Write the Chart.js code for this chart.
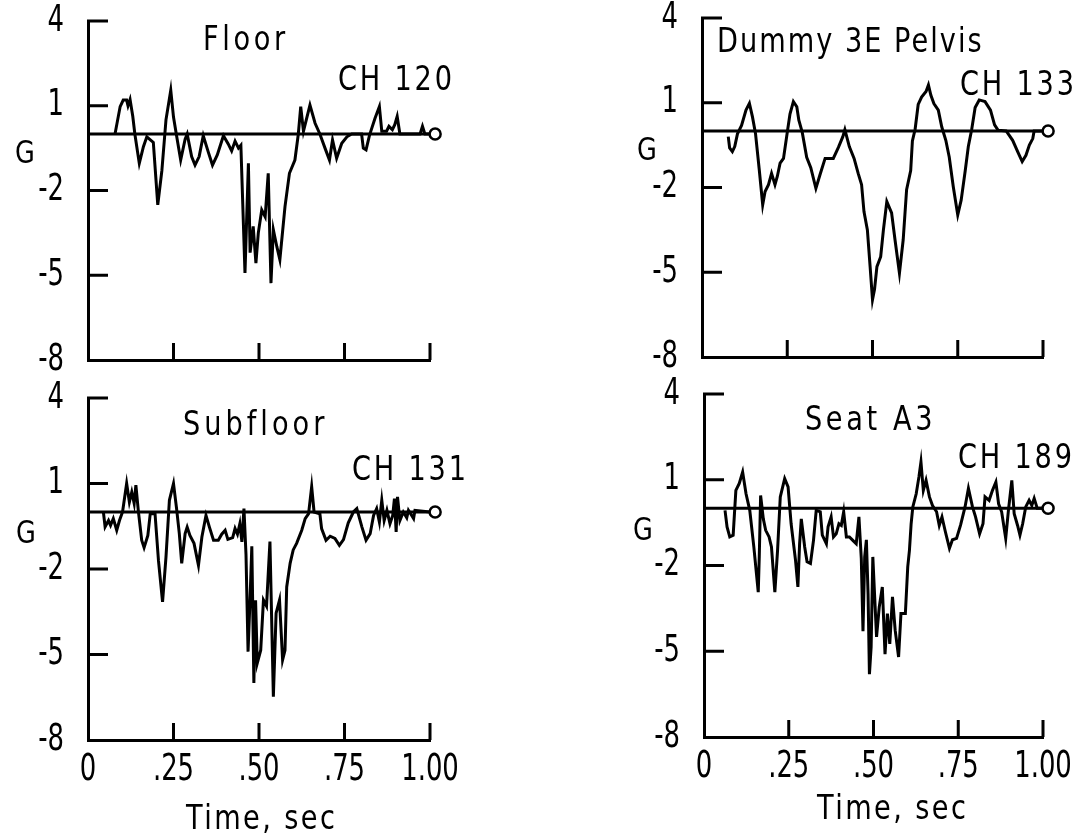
<!DOCTYPE html>
<html>
<head>
<meta charset="utf-8">
<script src="https://cdn.jsdelivr.net/npm/chart.js@4.4.1/dist/chart.umd.min.js"></script>
<style>
  body { margin: 0; background: #fff; }
  #page { position: relative; width: 1083px; height: 838px; overflow: hidden; background: #fff; }
  #page canvas { position: absolute; left: 0; top: 0; }
  .t { position: absolute; font-family: "DejaVu Sans", sans-serif; font-size: 34px; line-height: 1;
       white-space: nowrap; color: #000; transform: scaleX(0.8); transform-origin: 0 0; }
  .g { font-size: 32px; }
</style>
</head>
<body>
<div id="page">
  <canvas id="floor" width="1083" height="838"></canvas>
  <canvas id="pelvis" width="1083" height="838"></canvas>
  <canvas id="subfloor" width="1083" height="838"></canvas>
  <canvas id="seat" width="1083" height="838"></canvas>

  <div class="t" style="left:203px;top:21px;letter-spacing:4.5px">Floor</div>
  <div class="t" style="left:338px;top:61px;letter-spacing:3.5px">CH 120</div>
  <div class="t g" style="left:15px;top:136px">G</div>

  <div class="t" style="left:717px;top:23px;letter-spacing:2.5px">Dummy 3E Pelvis</div>
  <div class="t" style="left:960px;top:66px;letter-spacing:3.5px">CH 133</div>
  <div class="t g" style="left:637px;top:133px">G</div>

  <div class="t" style="left:183px;top:406px;letter-spacing:5px">Subfloor</div>
  <div class="t" style="left:352px;top:451px;letter-spacing:3.5px">CH 131</div>
  <div class="t g" style="left:16px;top:516px">G</div>

  <div class="t" style="left:805px;top:401px;letter-spacing:4.5px">Seat A3</div>
  <div class="t" style="left:958px;top:439px;letter-spacing:3.5px">CH 189</div>
  <div class="t g" style="left:633px;top:513px">G</div>

  <div class="t" style="left:186px;top:800px;letter-spacing:3px">Time, sec</div>
  <div class="t" style="left:817px;top:790px;letter-spacing:3px">Time, sec</div>
</div>
<script>
// axis ticks
const yTicks = [-8, -5, -2, 1, 4];
const xTicks = [0, 0.25, 0.5, 0.75, 1.0];
const xTickLabels = ['0', '.25', '.50', '.75', '1.00'];

// zero reference line with the open circle at its end
const baselineTime = [0, 1.015];
const baselineG = [0, 0];

// CH 120 - Floor
const floorTime = [0.079, 0.094, 0.103, 0.113, 0.117, 0.123, 0.131, 0.137, 0.150, 0.162, 0.172, 0.191, 0.204, 0.216, 0.228, 0.242, 0.250, 0.259, 0.271, 0.284, 0.290, 0.303, 0.313, 0.325, 0.337, 0.352, 0.364, 0.378, 0.396, 0.410, 0.420, 0.430, 0.440, 0.447, 0.459, 0.469, 0.474, 0.483, 0.491, 0.498, 0.508, 0.518, 0.527, 0.535, 0.542, 0.552, 0.561, 0.576, 0.589, 0.605, 0.615, 0.622, 0.630, 0.649, 0.664, 0.678, 0.693, 0.706, 0.715, 0.727, 0.742, 0.757, 0.771, 0.800, 0.805, 0.813, 0.823, 0.839, 0.852, 0.859, 0.873, 0.880, 0.890, 0.897, 0.904, 0.912, 0.971, 0.978, 0.985, 1.000];
const floorG = [0, 0.97, 1.2, 1.2, 1.0, 1.22, 0.62, 0, -1.04, -0.45, -0.1, -0.3, -2.51, -1.3, 0.5, 1.55, 0.6, -0.06, -0.92, -0.18, 0, -0.8, -1.1, -0.8, -0.06, -0.65, -1.1, -0.74, -0.06, -0.35, -0.6, -0.25, -0.5, -0.4, -4.92, -1.04, -4.2, -3.27, -4.57, -3.5, -2.69, -2.93, -1.39, -5.28, -3.39, -3.98, -4.45, -2.57, -1.39, -0.92, 0, 0.97, 0.1, 1.02, 0.38, 0, -0.5, -0.92, -0.21, -0.86, -0.33, -0.1, 0, 0, -0.5, -0.56, -0.05, 0.55, 0.97, 0.1, 0.1, 0.27, 0.15, 0.33, 0.62, 0, 0, 0.27, 0, 0];

// CH 133 - Dummy 3E Pelvis
const pelvisTime = [0.077, 0.081, 0.089, 0.096, 0.104, 0.116, 0.129, 0.139, 0.148, 0.157, 0.168, 0.178, 0.185, 0.195, 0.204, 0.214, 0.221, 0.229, 0.239, 0.250, 0.258, 0.268, 0.278, 0.284, 0.294, 0.307, 0.319, 0.334, 0.346, 0.361, 0.385, 0.400, 0.413, 0.419, 0.432, 0.446, 0.458, 0.468, 0.475, 0.485, 0.493, 0.500, 0.506, 0.513, 0.524, 0.532, 0.542, 0.556, 0.566, 0.579, 0.590, 0.600, 0.612, 0.617, 0.625, 0.634, 0.644, 0.657, 0.664, 0.671, 0.680, 0.693, 0.703, 0.715, 0.725, 0.737, 0.750, 0.760, 0.772, 0.781, 0.791, 0.801, 0.813, 0.830, 0.846, 0.858, 0.868, 0.892, 0.911, 0.926, 0.939, 0.950, 0.960, 0.970, 0.974, 1.000];
const pelvisG = [-0.2, -0.6, -0.73, -0.55, -0.1, 0.2, 0.74, 0.98, 0.5, -0.1, -1.38, -2.61, -2.14, -1.9, -1.5, -1.9, -1.6, -1.14, -0.97, -0.05, 0.6, 1.04, 0.86, 0.38, -0.05, -0.93, -1.3, -2.03, -1.55, -0.97, -0.97, -0.58, -0.2, 0.05, -0.55, -0.97, -1.5, -1.9, -2.85, -3.5, -4.8, -5.97, -5.6, -4.8, -4.45, -3.5, -2.5, -2.9, -3.85, -5.03, -3.85, -2.08, -1.4, -0.35, 0.06, 0.94, 1.2, 1.4, 1.63, 1.27, 0.97, 0.74, 0.15, -0.33, -0.92, -1.98, -2.97, -2.45, -1.4, -0.55, 0.06, 0.83, 1.1, 1.04, 0.74, 0.22, 0.03, 0, -0.33, -0.74, -1.08, -0.86, -0.5, -0.27, 0, 0];

// CH 131 - Subfloor
const subfloorTime = [0.045, 0.050, 0.060, 0.066, 0.074, 0.084, 0.092, 0.101, 0.113, 0.121, 0.128, 0.135, 0.140, 0.147, 0.157, 0.164, 0.175, 0.182, 0.196, 0.206, 0.218, 0.228, 0.238, 0.250, 0.259, 0.267, 0.274, 0.284, 0.290, 0.298, 0.310, 0.323, 0.333, 0.345, 0.355, 0.367, 0.381, 0.391, 0.401, 0.409, 0.423, 0.430, 0.437, 0.444, 0.450, 0.456, 0.462, 0.468, 0.474, 0.479, 0.485, 0.490, 0.495, 0.505, 0.513, 0.522, 0.532, 0.542, 0.550, 0.560, 0.569, 0.576, 0.581, 0.591, 0.600, 0.610, 0.625, 0.635, 0.645, 0.654, 0.661, 0.678, 0.683, 0.696, 0.708, 0.722, 0.735, 0.747, 0.761, 0.776, 0.786, 0.801, 0.813, 0.825, 0.835, 0.844, 0.852, 0.859, 0.866, 0.874, 0.883, 0.891, 0.896, 0.901, 0.905, 0.912, 0.922, 0.932, 0.937, 0.952, 0.956, 1.000];
const subfloorG = [0, -0.52, -0.3, -0.47, -0.23, -0.64, -0.3, 0, 1.0, 0.35, 0.7, 0.3, 0.94, 0.06, -0.99, -1.25, -0.82, -0.06, -0.06, -1.7, -3.15, -1.58, 0.41, 1.0, 0.12, -0.76, -1.8, -0.76, -0.53, -0.82, -1.1, -1.87, -0.88, -0.12, -0.53, -0.99, -0.99, -0.78, -0.64, -0.96, -0.9, -0.58, -0.78, -0.41, -1.05, 0.12, -1.5, -4.9, -3.0, -1.2, -6.0, -3.1, -5.3, -4.85, -3.09, -3.3, -1.04, -6.48, -3.55, -3.09, -5.19, -4.85, -2.63, -1.8, -1.33, -1.1, -0.64, -0.23, -0.06, 0.89, 0, -0.06, -0.58, -0.99, -0.85, -0.93, -1.17, -0.97, -0.38, 0, 0.12, -0.53, -0.99, -0.76, -0.12, 0.12, -0.35, 0.41, -0.3, 0.06, -0.41, -0.12, 0.47, -0.7, 0.53, -0.3, 0, -0.2, 0.06, -0.23, 0.06, 0];

// CH 189 - Seat A3
const seatTime = [0.062, 0.068, 0.076, 0.086, 0.094, 0.104, 0.114, 0.124, 0.135, 0.147, 0.160, 0.163, 0.167, 0.175, 0.182, 0.192, 0.199, 0.209, 0.217, 0.225, 0.238, 0.248, 0.257, 0.270, 0.277, 0.282, 0.287, 0.297, 0.304, 0.314, 0.323, 0.331, 0.343, 0.349, 0.361, 0.366, 0.375, 0.382, 0.390, 0.398, 0.405, 0.412, 0.420, 0.429, 0.439, 0.449, 0.457, 0.464, 0.469, 0.474, 0.479, 0.484, 0.488, 0.493, 0.498, 0.503, 0.509, 0.517, 0.526, 0.534, 0.541, 0.548, 0.556, 0.564, 0.574, 0.581, 0.594, 0.601, 0.606, 0.611, 0.616, 0.626, 0.634, 0.640, 0.647, 0.655, 0.665, 0.674, 0.686, 0.694, 0.702, 0.712, 0.724, 0.733, 0.745, 0.757, 0.770, 0.780, 0.792, 0.801, 0.813, 0.823, 0.829, 0.841, 0.851, 0.861, 0.869, 0.878, 0.890, 0.898, 0.908, 0.915, 0.925, 0.932, 0.940, 0.949, 0.959, 0.967, 0.974, 0.983, 1.000];
const seatG = [-0.07, -0.65, -1.0, -0.94, 0.63, 0.87, 1.27, 0.51, -0.07, -1.35, -2.93, -1.7, 0.45, -0.37, -0.77, -1.0, -1.35, -2.93, -1.47, 0.4, 1.04, 0.75, -0.54, -1.82, -2.75, -1.24, -0.37, -1.35, -1.87, -1.93, -1.12, -0.07, -0.12, -0.94, -1.24, -0.65, -0.3, -1.0, -0.89, -0.54, -0.6, -0.12, -1.0, -1.0, -1.12, -1.24, -0.3, -1.76, -4.3, -1.7, -1.1, -3.0, -5.8, -4.85, -1.7, -2.98, -4.5, -3.45, -2.75, -5.1, -3.68, -4.74, -3.1, -4.27, -5.2, -3.68, -3.68, -2.05, -1.47, -0.54, 0.05, 0.51, 1.1, 1.62, 0.63, 0.98, 0.4, 0.1, -0.12, -0.6, -0.3, -0.82, -1.4, -1.1, -1.05, -0.58, 0.05, 0.7, 0.05, -0.3, -0.89, -0.54, 0.4, 0.28, 0.63, 0.92, 0.16, -0.12, -1.05, -0.07, 0.98, -0.19, -0.6, -0.94, -0.54, 0.05, 0.28, 0.1, 0.35, 0, 0];

const W = 1083, H = 838;
const FONT = '"DejaVu Sans", sans-serif';
const NARROW = 0.7;   // horizontal squeeze for tick labels (no condensed face installed)
const Y_BOX = 80, X_BOX = 60;

// chart areas in page pixels
const panels = [
  { id: 'floor', time: floorTime, g: floorG, area: { left: 88, right: 430, top: 21, bottom: 360 }, xLabels: false },
  { id: 'pelvis', time: pelvisTime, g: pelvisG, area: { left: 702, right: 1043, top: 18, bottom: 357 }, xLabels: false },
  { id: 'subfloor', time: subfloorTime, g: subfloorG, area: { left: 88, right: 430, top: 398, bottom: 740 }, xLabels: true },
  { id: 'seat', time: seatTime, g: seatG, area: { left: 704, right: 1043, top: 394, bottom: 737 }, xLabels: true }
];

function toPoints(xs, ys) {
  const n = Math.min(xs.length, ys.length);
  const pts = [];
  for (let i = 0; i < n; i++) pts.push({ x: xs[i], y: ys[i] });
  return pts;
}

// fixed axis boxes, and no extra label padding pushed into the layout
function fixBox(s, size) {
  if (s.isHorizontal()) s.height = size; else s.width = size;
  s.paddingTop = 0;
  s.paddingBottom = 0;
  s.paddingLeft = 0;
  s.paddingRight = 0;
}

// squeeze text drawn on the canvas so it looks like the narrow typeface of the original
const narrowText = {
  id: 'narrowText',
  beforeInit(chart) {
    const ctx = chart.ctx;
    const orig = ctx.fillText;
    ctx.fillText = function (text, x, y) {
      this.save();
      this.translate(x, y);
      this.scale(NARROW, 1);
      orig.call(this, text, 0, 0);
      this.restore();
    };
  }
};

// tick marks point into the plot, like the original figure
const inwardTicks = {
  id: 'inwardTicks',
  afterDraw(chart) {
    const { ctx, scales: { x, y } } = chart;
    ctx.save();
    ctx.strokeStyle = '#000';
    ctx.lineWidth = 3;
    ctx.beginPath();
    yTicks.forEach(v => {
      if (v === y.min) return;
      const py = y.getPixelForValue(v);
      ctx.moveTo(x.left - 1, py);
      ctx.lineTo(x.left + 20, py);
    });
    xTicks.forEach(v => {
      if (v === x.min) return;
      const px = x.getPixelForValue(v);
      ctx.moveTo(px, y.bottom);
      ctx.lineTo(px, y.bottom - 17);
    });
    ctx.stroke();
    ctx.restore();
  }
};

const tickFont = { family: FONT, size: 37 };

function makeChart(p) {
  const canvas = document.getElementById(p.id);
  const chart = new Chart(canvas, {
    type: 'line',
    data: {
      datasets: [
        {
          data: toPoints(p.time, p.g),
          borderColor: '#000',
          borderWidth: 3,
          pointRadius: 0,
          tension: 0,
          order: 1
        },
        {
          data: toPoints(baselineTime, baselineG),
          borderColor: '#000',
          borderWidth: 3,
          pointRadius: [0, 5.5],
          pointBorderWidth: 2.5,
          pointBorderColor: '#000',
          pointBackgroundColor: '#fff',
          clip: false,
          order: 2
        }
      ]
    },
    options: {
      responsive: false,
      animation: false,
      devicePixelRatio: 1,
      events: [],
      layout: {
        autoPadding: false,
        padding: {
          left: p.area.left - Y_BOX,
          top: p.area.top,
          right: W - p.area.right,
          bottom: H - p.area.bottom - X_BOX
        }
      },
      plugins: { legend: { display: false }, tooltip: { enabled: false }, title: { display: false } },
      scales: {
        x: {
          type: 'linear',
          min: 0,
          max: 1,
          afterFit: s => fixBox(s, X_BOX),
          afterBuildTicks: s => { s.ticks = xTicks.map(v => ({ value: v })); },
          grid: { display: false, drawTicks: false },
          border: { display: true, color: '#000', width: 3 },
          ticks: {
            display: p.xLabels,
            autoSkip: false,
            maxRotation: 0,
            padding: 8,
            color: '#000',
            font: tickFont,
            callback: v => xTickLabels[xTicks.indexOf(v)]
          }
        },
        y: {
          type: 'linear',
          min: -8,
          max: 4,
          afterFit: s => fixBox(s, Y_BOX),
          afterBuildTicks: s => { s.ticks = yTicks.map(v => ({ value: v })); },
          grid: { display: false, drawTicks: false },
          border: { display: true, color: '#000', width: 3 },
          ticks: {
            autoSkip: false,
            padding: 24,
            color: '#000',
            font: tickFont,
            callback: v => String(v)
          }
        }
      }
    },
    plugins: [narrowText, inwardTicks]
  });

  // nudge the padding until the plot area sits where the original has it
  for (let k = 0; k < 4; k++) {
    const ca = chart.chartArea;
    const pad = chart.options.layout.padding;
    const dl = p.area.left - ca.left, dt = p.area.top - ca.top;
    const dr = ca.right - p.area.right, db = ca.bottom - p.area.bottom;
    if (Math.abs(dl) + Math.abs(dt) + Math.abs(dr) + Math.abs(db) < 0.5) break;
    pad.left += dl; pad.top += dt; pad.right += dr; pad.bottom += db;
    chart.update();
  }
  return chart;
}

panels.forEach(makeChart);
</script>
</body>
</html>
